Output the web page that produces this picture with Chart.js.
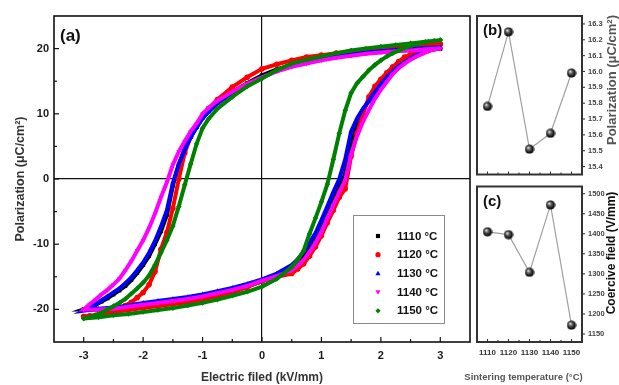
<!DOCTYPE html>
<html>
<head>
<meta charset="utf-8">
<script src="https://cdn.jsdelivr.net/npm/chart.js"></script>
<style>
  html, body { margin: 0; padding: 0; background: #fff; }
  #wrap { position: relative; width: 619px; height: 385px; overflow: hidden; }
  canvas { position: absolute; }
</style>
</head>
<body>
<div id="wrap">
  <canvas id="loopChart" width="475" height="385" style="left:0;top:0"></canvas>
  <canvas id="polChart" width="149" height="185" style="left:470px;top:0"></canvas>
  <canvas id="ecChart" width="164" height="209" style="left:455px;top:176px"></canvas>
</div>
<script>
// field sweep (kV/mm): down branch 3 -> -3, up branch -3 -> 3
const fieldDown = [3.0, 2.75, 2.5, 2.25, 2.0, 1.75, 1.5, 1.25, 1.0, 0.75, 0.5, 0.25, 0,
  -0.25, -0.5, -0.75, -0.9, -1.0, -1.1, -1.2, -1.3, -1.4, -1.5, -1.6, -1.7, -1.8, -1.9,
  -2.0, -2.1, -2.2, -2.3, -2.4, -2.5, -2.6, -2.7, -2.8, -2.9, -3.0];
const fieldUp = [-3.0, -2.75, -2.5, -2.25, -2.0, -1.75, -1.5, -1.25, -1.0, -0.75, -0.5, -0.25, 0,
  0.25, 0.5, 0.6, 0.7, 0.8, 0.9, 1.0, 1.1, 1.2, 1.3, 1.4, 1.5, 1.6, 1.7, 1.8, 1.9,
  2.0, 2.1, 2.2, 2.3, 2.4, 2.5, 2.6, 2.7, 2.8, 2.9, 3.0];

// polarization (uC/cm2)
const p1110Down = [20.0, 19.95, 19.8, 19.7, 19.5, 19.3, 19.1, 18.8, 18.4, 18.0, 17.5, 16.8, 15.9,
  14.7, 13.3, 11.7, 10.4, 9.4, 8.0, 6.5, 4.7, 2.2, -1.0, -5.5, -8.0, -10.0, -11.8,
  -13.2, -14.4, -15.5, -16.4, -17.1, -17.7, -18.3, -18.8, -19.3, -19.7, -20.0];
const p1110Up = [-20.0, -20.0, -19.9, -19.7, -19.4, -19.1, -18.8, -18.5, -18.1, -17.6, -17.1, -16.5, -15.7,
  -14.8, -13.6, -12.8, -11.8, -10.4, -9.0, -7.0, -5.0, -3.2, -1.2, 0.8, 5.0, 8.6, 10.6, 12.0, 13.0,
  14.3, 15.4, 16.4, 17.2, 17.9, 18.5, 19.0, 19.4, 19.7, 19.9, 20.0];

const p1120Down = [20.7, 20.55, 20.4, 20.2, 20.0, 19.8, 19.6, 19.3, 19.0, 18.7, 18.2, 17.6, 16.9,
  15.6, 14.1, 12.2, 10.8, 9.6, 8.2, 6.5, 4.0, 0.0, -4.5, -8.2, -10.8, -14.2, -16.2,
  -17.4, -18.2, -18.9, -19.4, -19.9, -20.2, -20.5, -20.7, -20.9, -21.0, -21.1];
const p1120Up = [-21.1, -20.8, -20.4, -20.1, -19.8, -19.5, -19.2, -18.9, -18.5, -18.0, -17.4, -16.6, -15.6,
  -15.0, -14.5, -13.8, -13.0, -11.8, -10.4, -8.7, -6.7, -4.8, -2.8, -1.5, 3.5, 7.0, 10.0, 12.6, 14.2,
  15.3, 16.3, 17.2, 18.0, 18.7, 19.1, 19.5, 19.9, 20.2, 20.5, 20.7];

const p1130Down = [20.2, 20.1, 19.9, 19.8, 19.6, 19.4, 19.1, 18.8, 18.4, 17.9, 17.3, 16.6, 15.6,
  14.5, 13.2, 11.6, 10.3, 9.3, 7.9, 6.4, 4.5, 2.3, -0.6, -4.8, -7.3, -9.5, -11.3,
  -12.8, -14.0, -15.1, -16.0, -16.8, -17.4, -18.0, -18.6, -19.2, -19.7, -20.2];
const p1130Up = [-20.2, -19.9, -19.7, -19.4, -19.0, -18.7, -18.4, -18.1, -17.7, -17.2, -16.7, -16.1, -15.4,
  -14.5, -13.2, -12.3, -11.2, -9.8, -8.3, -6.3, -4.2, -2.0, 0.0, 3.0, 7.3, 9.3, 10.8, 12.0, 13.3,
  14.5, 15.6, 16.5, 17.3, 17.9, 18.5, 19.0, 19.4, 19.7, 20.0, 20.2];

const p1140Down = [20.0, 19.9, 19.7, 19.6, 19.4, 19.2, 18.9, 18.6, 18.2, 17.7, 17.2, 16.5, 15.6,
  14.6, 13.4, 12.0, 10.9, 10.0, 8.5, 7.3, 5.8, 4.2, 2.2, -0.5, -2.8, -5.3, -7.5,
  -9.4, -11.0, -12.6, -14.0, -15.3, -16.2, -17.0, -17.7, -18.5, -19.2, -20.0];
const p1140Up = [-20.0, -20.0, -19.9, -19.6, -19.3, -19.0, -18.7, -18.4, -18.0, -17.5, -17.0, -16.4, -15.6,
  -14.9, -14.0, -13.3, -12.4, -11.2, -9.8, -8.1, -6.0, -4.0, -2.0, -0.2, 3.8, 6.6, 8.8, 10.6, 12.3,
  13.7, 14.9, 16.1, 17.0, 17.7, 18.3, 18.8, 19.2, 19.6, 19.9, 20.0];

const p1150Down = [21.3, 21.05, 20.8, 20.55, 20.3, 20.0, 19.7, 19.3, 18.8, 18.3, 17.7, 16.7, 15.4,
  14.2, 12.6, 10.8, 9.2, 7.8, 5.4, 2.3, -0.9, -4.2, -7.2, -9.4, -11.3, -13.2, -14.8,
  -15.9, -16.8, -17.6, -18.4, -19.0, -19.5, -20.0, -20.5, -20.9, -21.2, -21.4];
const p1150Up = [-21.4, -21.2, -20.9, -20.7, -20.4, -20.1, -19.8, -19.4, -19.0, -18.5, -17.9, -17.3, -16.5,
  -15.3, -13.5, -12.4, -11.0, -8.4, -6.0, -3.5, -0.8, 3.0, 7.0, 10.5, 13.2, 14.7, 15.7, 16.7, 17.5,
  18.2, 18.8, 19.3, 19.7, 20.1, 20.4, 20.7, 20.9, 21.1, 21.2, 21.3];

// panels (b) and (c)
const sinterTemps = [1110, 1120, 1130, 1140, 1150];
const remPol = [15.78, 16.25, 15.51, 15.61, 15.99];
const coerField = [1405, 1398, 1304, 1472, 1172];

// ticks
const fieldTicks = [-3, -2, -1, 0, 1, 2, 3];
const fieldMinor = [-2.5, -1.5, -0.5, 0.5, 1.5, 2.5];
const polTicks = [-20, -10, 0, 10, 20];
const polMinor = [-15, -5, 5, 15];
const remTicks = [15.4, 15.5, 15.6, 15.7, 15.8, 15.9, 16.0, 16.1, 16.2, 16.3];
const ecTicks = [1150, 1200, 1250, 1300, 1350, 1400, 1450, 1500];
const tempMinor = [1115, 1125, 1135, 1145];

const loopSeries = [
  { label: '1110 \u00B0C', color: '#000000', style: 'rect', rot: 0, down: p1110Down, up: p1110Up },
  { label: '1120 \u00B0C', color: '#ff0000', style: 'circle', rot: 0, down: p1120Down, up: p1120Up },
  { label: '1130 \u00B0C', color: '#0000ff', style: 'triangle', rot: 0, down: p1130Down, up: p1130Up },
  { label: '1140 \u00B0C', color: '#ff00ff', style: 'triangle', rot: 180, down: p1140Down, up: p1140Up },
  { label: '1150 \u00B0C', color: '#008000', style: 'rectRot', rot: 0, down: p1150Down, up: p1150Up }
];

Chart.defaults.font.family = '"Liberation Sans", Arial, sans-serif';
Chart.defaults.color = '#1a1a1a';

function drawMarker(ctx, style, rot, x, y, r) {
  ctx.beginPath();
  if (style === 'circle') {
    ctx.arc(x, y, r, 0, Math.PI * 2);
  } else if (style === 'rect') {
    ctx.rect(x - r * 0.8, y - r * 0.8, r * 1.6, r * 1.6);
  } else if (style === 'rectRot') {
    ctx.moveTo(x, y - r); ctx.lineTo(x + r, y); ctx.lineTo(x, y + r); ctx.lineTo(x - r, y);
  } else {
    const s = rot ? -1 : 1;
    ctx.moveTo(x, y - s * r); ctx.lineTo(x + r, y + s * r * 0.7); ctx.lineTo(x - r, y + s * r * 0.7);
  }
  ctx.closePath();
  ctx.fill();
}

const loopFrame = {
  id: 'loopFrame',
  afterDraw(chart) {
    const { ctx, chartArea: a, scales: { x, y } } = chart;
    ctx.save();
    ctx.strokeStyle = '#111';
    ctx.lineWidth = 1.2;
    const mark = (x1, y1, x2, y2) => { ctx.beginPath(); ctx.moveTo(x1, y1); ctx.lineTo(x2, y2); ctx.stroke(); };
    fieldTicks.forEach(v => { const p = x.getPixelForValue(v); mark(p, a.bottom, p, a.bottom - 5); });
    fieldMinor.forEach(v => { const p = x.getPixelForValue(v); mark(p, a.bottom, p, a.bottom - 3); });
    polTicks.forEach(v => { const p = y.getPixelForValue(v); mark(a.left, p, a.left + 5, p); });
    polMinor.forEach(v => { const p = y.getPixelForValue(v); mark(a.left, p, a.left + 3, p); });
    ctx.lineWidth = 1.6;
    ctx.strokeRect(a.left, a.top, a.right - a.left, a.bottom - a.top);

    ctx.fillStyle = '#111';
    ctx.font = 'bold 17px "Liberation Sans", Arial, sans-serif';
    ctx.textBaseline = 'middle';
    ctx.fillText('(a)', 60, 36);

    // legend box
    ctx.lineWidth = 1;
    ctx.strokeStyle = '#8a8a8a';
    ctx.strokeRect(353.5, 215.5, 91, 108);
    ctx.font = 'bold 11.5px "Liberation Sans", Arial, sans-serif';
    loopSeries.forEach((s, i) => {
      const ly = 236 + i * 18.7;
      ctx.fillStyle = s.color;
      drawMarker(ctx, s.style, s.rot, 378, ly, 2.6);
      ctx.fillStyle = '#111';
      ctx.fillText(s.label, 397, ly + 0.5);
    });
    ctx.restore();
  }
};

new Chart('loopChart', {
  type: 'scatter',
  data: {
    datasets: loopSeries.map((s, i) => ({
      label: s.label,
      data: fieldDown.map((e, k) => ({ x: e, y: s.down[k] }))
        .concat(fieldUp.map((e, k) => ({ x: e, y: s.up[k] }))),
      showLine: true,
      borderColor: s.color,
      backgroundColor: s.color,
      borderWidth: 4,
      pointStyle: s.style,
      rotation: s.rot,
      pointRadius: 2.8,
      pointBorderWidth: 0,
      order: loopSeries.length - i
    }))
  },
  options: {
    responsive: false,
    animation: false,
    layout: { padding: { left: 0, top: 16, right: 5, bottom: 0 } },
    plugins: { legend: { display: false }, tooltip: { enabled: false } },
    scales: {
      x: {
        min: -3.5, max: 3.5,
        afterBuildTicks: s => { s.ticks = fieldTicks.map(v => ({ value: v })); },
        afterFit: s => { s.height = 43; },
        grid: { color: c => (c.tick && c.tick.value === 0 ? '#111' : 'rgba(0,0,0,0)'), lineWidth: 1.2, drawTicks: false },
        border: { display: false },
        ticks: { padding: 7, font: { size: 11, weight: 'bold' }, color: '#1a1a1a' },
        title: { display: true, text: 'Electric filed (kV/mm)', font: { size: 12, weight: 'bold' }, color: '#333', padding: { top: 0, bottom: 0 } }
      },
      y: {
        min: -25, max: 25,
        afterBuildTicks: s => { s.ticks = polTicks.map(v => ({ value: v })); },
        afterFit: s => { s.width = 54; },
        grid: { color: c => (c.tick && c.tick.value === 0 ? '#111' : 'rgba(0,0,0,0)'), lineWidth: 1.2, drawTicks: false },
        border: { display: false },
        ticks: { padding: 5, font: { size: 11, weight: 'bold' }, color: '#1a1a1a' },
        title: { display: true, text: 'Polarization (\u03BCC/cm\u00B2)', font: { size: 12.5, weight: 'bold' }, color: '#333', padding: { top: 13, bottom: 0 } }
      }
    }
  },
  plugins: [loopFrame]
});

// glossy sphere marker for the side panels
const sphere = document.createElement('canvas');
sphere.width = 10; sphere.height = 10;
(function () {
  const g = sphere.getContext('2d');
  const grad = g.createRadialGradient(3.6, 3.4, 0.3, 5, 5, 5);
  grad.addColorStop(0, '#f2f2f2');
  grad.addColorStop(0.3, '#6a6a6a');
  grad.addColorStop(0.75, '#111');
  grad.addColorStop(1, '#000');
  g.fillStyle = grad;
  g.beginPath(); g.arc(5, 5, 4.6, 0, Math.PI * 2); g.fill();
})();

const panelFrame = {
  id: 'panelFrame',
  afterDraw(chart, args, opts) {
    const { ctx, chartArea: a, scales: { x, y } } = chart;
    ctx.save();
    ctx.strokeStyle = '#333';
    ctx.lineWidth = 1.1;
    const mark = (x1, y1, x2, y2) => { ctx.beginPath(); ctx.moveTo(x1, y1); ctx.lineTo(x2, y2); ctx.stroke(); };
    sinterTemps.forEach(v => { const p = x.getPixelForValue(v); mark(p, a.bottom, p, a.bottom - 3); });
    tempMinor.forEach(v => { const p = x.getPixelForValue(v); mark(p, a.bottom, p, a.bottom - 2); });
    opts.yTicks.forEach(v => { const p = y.getPixelForValue(v); mark(a.right, p, a.right + 3, p); });
    ctx.lineWidth = 2;
    ctx.strokeRect(a.left, a.top, a.right - a.left, a.bottom - a.top);

    ctx.fillStyle = '#111';
    ctx.textBaseline = 'middle';
    ctx.font = 'bold 15px "Liberation Sans", Arial, sans-serif';
    ctx.fillText(opts.label, a.left + 6, a.top + 15);

    if (opts.xTitle) {
      ctx.textAlign = 'center';
      ctx.fillStyle = '#555';
      ctx.font = 'bold 9.5px "Liberation Sans", Arial, sans-serif';
      ctx.fillText(opts.xTitle, 68.5, 201);
    }

    ctx.translate(opts.titleX, opts.titleY);
    ctx.rotate(-Math.PI / 2);
    ctx.textAlign = 'center';
    ctx.fillStyle = opts.titleColor;
    ctx.font = opts.titleFont;
    ctx.fillText(opts.title, 0, 0);
    ctx.restore();
  }
};

function panelScales(yMin, yMax, yTicks, yFmt, yWidth, xHeight, showX) {
  return {
    x: {
      min: 1105, max: 1155,
      afterBuildTicks: s => { s.ticks = sinterTemps.map(v => ({ value: v })); },
      afterFit: s => { s.height = xHeight; },
      grid: { display: false, drawTicks: false },
      border: { display: false },
      ticks: {
        display: showX, autoSkip: false, maxRotation: 0, padding: 6,
        font: { size: 8, weight: 'bold' }, color: '#333', callback: v => String(v)
      }
    },
    y: {
      position: 'right',
      min: yMin, max: yMax,
      afterBuildTicks: s => { s.ticks = yTicks.map(v => ({ value: v })); },
      afterFit: s => { s.width = yWidth; },
      grid: { display: false, drawTicks: false },
      border: { display: false },
      ticks: { padding: 6, font: { size: 7.5, weight: 'bold' }, color: '#444', callback: yFmt }
    }
  };
}

function panelDataset(values) {
  return [{
    data: sinterTemps.map((t, i) => ({ x: t, y: values[i] })),
    showLine: true,
    borderColor: '#a0a0a0',
    borderWidth: 1.2,
    pointStyle: sphere,
    pointRadius: 5
  }];
}

new Chart('polChart', {
  type: 'scatter',
  data: { datasets: panelDataset(remPol) },
  options: {
    responsive: false,
    animation: false,
    layout: { padding: { left: 7, top: 16, right: 0, bottom: 0 } },
    plugins: {
      legend: { display: false }, tooltip: { enabled: false },
      panelFrame: {
        label: '(b)', yTicks: remTicks, title: 'Polarization (\u03BCC/cm\u00B2)',
        titleX: 142, titleY: 80, titleColor: '#555',
        titleFont: 'bold 13px "Liberation Sans", Arial, sans-serif'
      }
    },
    scales: panelScales(15.35, 16.35, remTicks, v => v.toFixed(1), 37, 10, false)
  },
  plugins: [panelFrame]
});

new Chart('ecChart', {
  type: 'scatter',
  data: { datasets: panelDataset(coerField) },
  options: {
    responsive: false,
    animation: false,
    layout: { padding: { left: 22, top: 6, right: 0, bottom: 0 } },
    plugins: {
      legend: { display: false }, tooltip: { enabled: false },
      panelFrame: {
        label: '(c)', yTicks: ecTicks, title: 'Coercive field (V/mm)',
        titleX: 157, titleY: 77, titleColor: '#111',
        titleFont: 'bold 12px "Liberation Sans", Arial, sans-serif',
        xTitle: 'Sintering temperature (\u00B0C)'
      }
    },
    scales: panelScales(1130, 1518, ecTicks, v => v, 37, 43, true)
  },
  plugins: [panelFrame]
});
</script>
</body>
</html>
